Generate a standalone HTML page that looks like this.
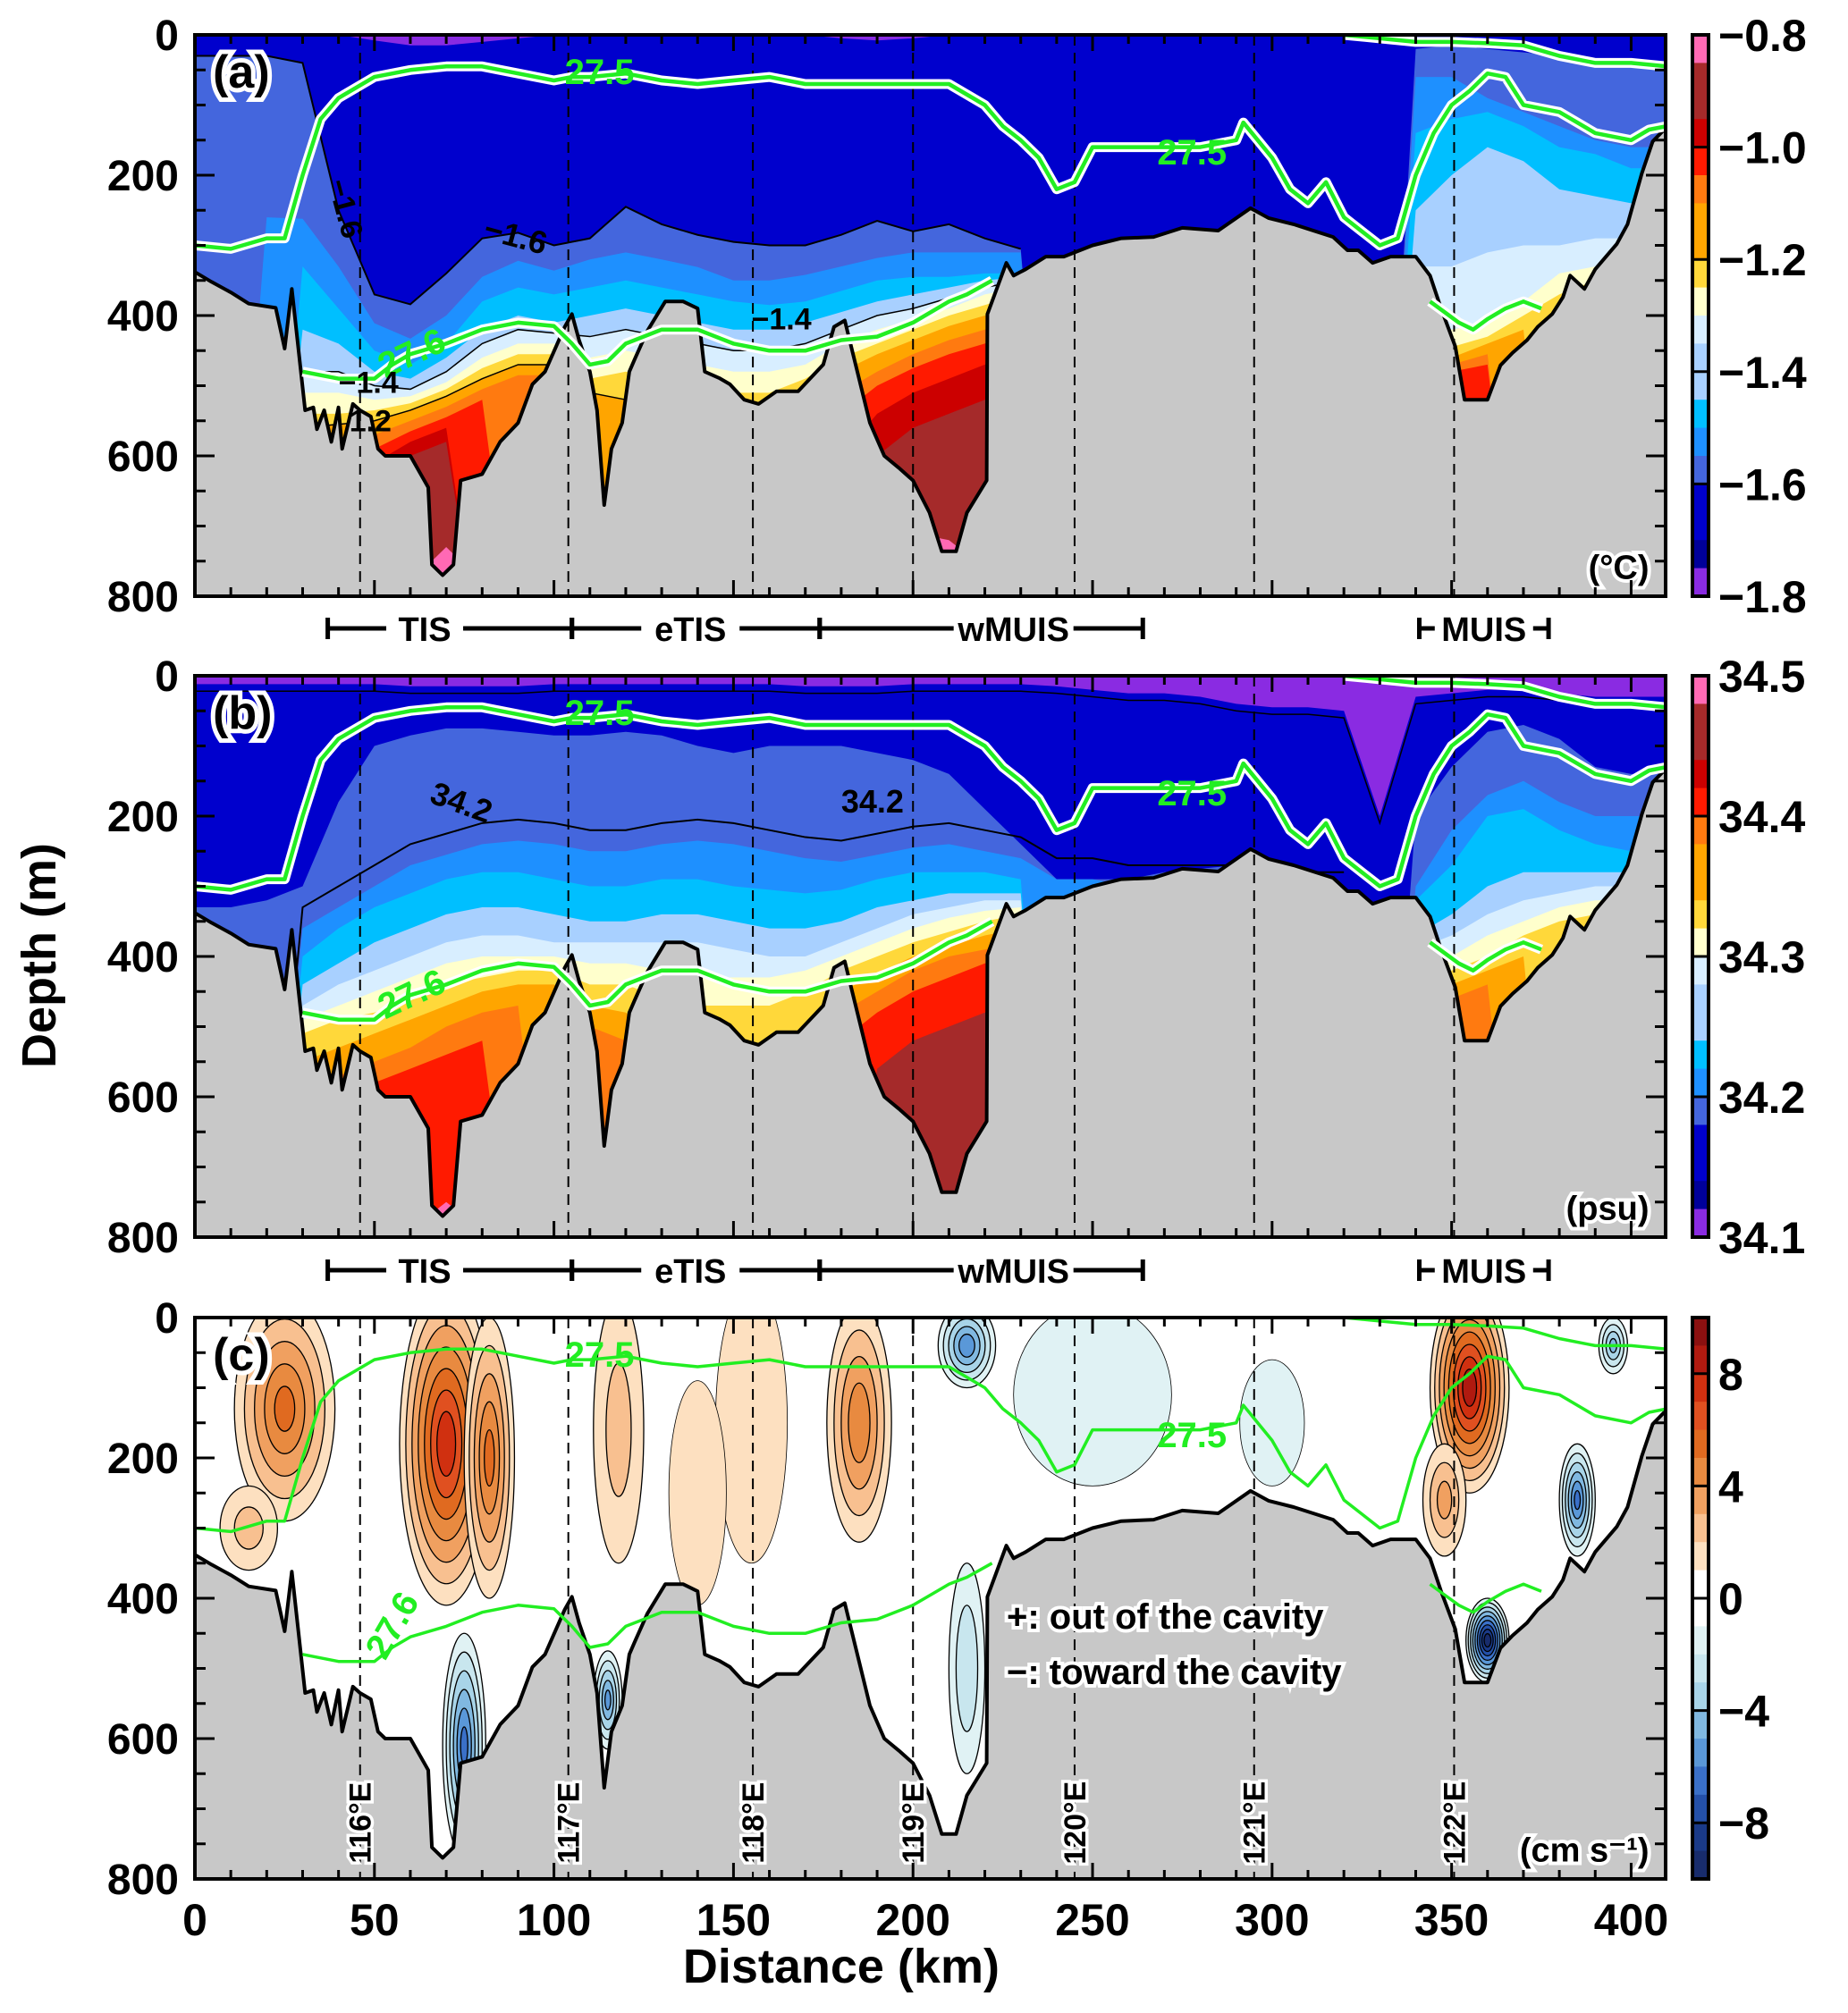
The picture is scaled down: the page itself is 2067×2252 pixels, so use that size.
<!DOCTYPE html>
<html><head><meta charset="utf-8">
<style>
html,body{margin:0;padding:0;background:#fff;}
svg{display:block;font-family:"Liberation Sans",Arial,sans-serif;font-weight:bold;}
</style></head>
<body>
<svg id="fig" xmlns="http://www.w3.org/2000/svg" width="2067" height="2252" viewBox="0 0 2067 2252">
<rect width="2067" height="2252" fill="#fff"/>
<g id="layer"></g>
</svg>
<script>
// ---------- data ----------
const stationStep = 10; // km between stations
const bathyKm = [0,4.6,10,15,22.5,25,27,30.7,33,34,36,38,40,41,44,46,49,51,53,56,60,65,66,69,72,74,80,85,90,94,97.5,103,105,107,110,112,114,116,119,121,122.5,126,131,136,140,142,146,149,153,157,162,168,175,178,181,188,192,196,200,204.6,208,212,215,220.5,220.7,226,228,231.4,237,242,250,258,267,275,285,294,299,306,317,321,324,328,333,340,344,347,351,353.6,360,363.6,367,371,374,378,381,383,387,390,396,399,403,406,409.6];
const bathyDepth = [338,352,367,383,389,447,362,535,531,562,535,580,531,590,526,535,544,590,600,600,600,645,755,770,755,635,626,580,553,498,480,416,398,435,480,535,670,590,553,480,462,422,380,380,390,480,489,498,520,526,508,508,470,416,407,553,600,617,635,681,736,736,681,635,398,325,343,334,316,316,300,290,288,275,279,247,261,270,288,307,307,325,316,316,343,389,444,520,520,471,453,435,416,398,374,343,362,334,298,270,197,152,133];

// temperature isolines (depth where each colour band begins), stations every 10 km
const tRoyal = [30,30,30,40,250,370,384,340,290,282,300,290,245,270,285,295,300,300,285,265,280,270,290,305,900,900,900,900,900,900,900,900,900,900,20,15,20,25,30,40,40,40];
const tDodger = [900,900,260,262,330,411,433,400,345,322,336,320,310,320,331,350,350,342,330,318,310,310,310,310,900,900,900,900,900,900,900,900,900,900,60,60,90,110,130,150,160,160];
const tDeepsky = [900,900,900,330,390,450,470,440,380,360,370,360,350,360,370,380,385,380,365,350,345,345,340,340,900,900,900,900,900,900,900,900,900,900,140,120,110,130,160,170,190,190];
const tLightsky = [900,900,900,420,440,480,490,460,420,400,410,400,390,400,410,420,420,410,395,380,370,360,350,345,900,900,900,900,900,900,900,900,900,900,250,200,160,180,220,230,240,240];
const tPalest = [900,900,900,480,480,500,505,480,440,420,425,430,420,430,440,450,450,440,420,400,390,375,360,350,900,900,900,900,900,900,900,900,900,900,330,330,310,300,300,290,290,290];
const tLightyellow = [900,900,900,510,510,520,515,495,460,440,440,460,450,460,470,480,480,470,440,420,405,390,370,360,900,900,900,900,900,900,900,900,900,900,400,420,410,380,340,330,320,320];
const tGold = [900,900,900,540,540,535,525,505,475,455,455,490,480,490,500,510,510,490,460,440,420,400,385,370,900,900,900,900,900,900,900,900,900,900,430,445,430,400,370,350,340,340];
const tOrange = [900,900,900,560,555,550,535,515,490,470,470,510,520,540,900,900,900,530,480,455,435,415,400,385,900,900,900,900,900,900,900,900,900,900,450,460,440,420,900,900,900,900];
const tDarkorange = [900,900,900,900,575,570,550,530,505,485,485,530,900,900,900,900,900,900,510,480,455,435,420,400,900,900,900,900,900,900,900,900,900,900,465,470,455,900,900,900,900,900];
const tRed = [900,900,900,900,600,590,565,545,520,900,900,550,900,900,900,900,900,900,540,500,475,455,440,420,900,900,900,900,900,900,900,900,900,900,480,480,470,900,900,900,900,900];
const tCrimson = [900,900,900,900,900,610,580,560,900,900,900,580,900,900,900,900,900,900,600,540,510,490,470,450,900,900,900,900,900,900,900,900,900,900,490,490,900,900,900,900,900,900];
const tDarkred = [900,900,900,900,900,630,600,580,900,900,900,900,900,900,900,900,900,900,900,600,560,540,520,500,900,900,900,900,900,900,900,900,900,900,900,500,900,900,900,900,900,900];
const tPink = [900,900,900,900,900,900,780,730,780,900,900,640,900,900,900,900,900,900,900,760,710,720,760,900,900,900,900,900,900,900,900,900,900,900,900,510,900,900,900,900,900,900];
const tPurple = [0,0,0,0,0,8,15,15,10,5,0,0,0,0,0,0,0,0,5,8,5,0,0,0,0,0,0,0,0,0,0,0,0,0,0,0,0,0,0,0,0,0];

// salinity isolines
const sPurple = [12,12,12,12,12,12,15,15,15,15,12,12,12,12,12,12,12,15,15,15,12,12,12,12,15,20,25,25,30,40,45,45,50,200,30,25,20,20,25,30,30,30];
const sRoyal = [330,330,320,300,180,100,85,75,75,80,85,85,80,85,100,110,100,100,100,110,120,140,190,240,290,290,290,280,275,270,290,310,310,900,200,130,80,70,90,130,140,140];
const sDodger = [900,900,900,360,330,300,270,255,240,235,240,250,250,240,235,240,250,260,265,255,245,240,250,260,290,290,300,300,300,300,300,310,310,900,300,220,170,150,180,200,200,200];
const sDeepsky = [900,900,900,400,360,330,310,290,280,280,290,300,300,290,290,300,305,310,305,290,280,280,280,290,900,900,900,900,900,900,900,900,900,900,320,270,200,190,220,240,250,250];
const sLightsky = [900,900,900,440,410,380,360,340,330,330,340,350,350,340,340,350,360,360,350,330,320,310,310,310,900,900,900,900,900,900,900,900,900,900,370,340,300,280,280,280,280,280];
const sPalest = [900,900,900,470,440,420,400,380,370,370,380,380,380,380,380,390,400,400,380,360,340,330,320,320,900,900,900,900,900,900,900,900,900,900,390,370,340,320,310,300,300,300];
const sLightyellow = [900,900,900,490,470,450,430,410,400,400,400,410,410,420,430,430,430,420,400,380,360,345,335,330,900,900,900,900,900,900,900,900,900,900,410,400,370,350,330,320,320,320];
const sGold = [900,900,900,510,490,480,460,440,430,420,420,440,440,460,470,470,470,450,420,400,380,365,350,340,900,900,900,900,900,900,900,900,900,900,430,420,400,370,350,340,340,340];
const sOrange = [900,900,900,550,530,510,490,470,450,440,440,470,480,520,900,900,900,500,450,425,400,385,370,360,900,900,900,900,900,900,900,900,900,900,450,440,420,400,900,900,900,900];
const sDarkorange = [900,900,900,900,570,550,530,500,480,470,900,500,520,900,900,900,900,900,480,450,420,400,390,380,900,900,900,900,900,900,900,900,900,900,470,460,440,900,900,900,900,900];
const sRed = [900,900,900,900,900,580,560,540,520,900,900,560,900,900,900,900,900,900,520,480,450,430,410,400,900,900,900,900,900,900,900,900,900,900,490,480,900,900,900,900,900,900];
const sCrimson = [900,900,900,900,900,900,900,900,900,900,900,900,900,900,900,900,900,900,900,560,520,500,480,470,900,900,900,900,900,900,900,900,900,900,900,900,900,900,900,900,900,900];
const sPink = [900,900,900,900,900,900,790,750,790,900,900,650,900,900,900,900,900,900,900,780,720,760,900,900,900,900,900,900,900,900,900,900,900,900,900,900,900,900,900,900,900,900];

// density contours
const g275Km = [0,10,20,25,30,35,40,50,60,70,80,90,100,105,110,120,130,140,150,160,170,180,190,200,210,220,225,230,235,240,245,250,260,270,280,290,292,300,305,310,315,320,325,330,335,340,345,350,355,360,365,370,380,390,400,405,410];
const g275Depth = [300,305,290,290,200,120,90,60,50,45,45,55,65,60,60,55,65,70,65,60,70,70,70,70,70,100,130,150,175,220,210,160,160,160,160,150,125,175,220,240,210,260,280,300,290,200,140,100,80,55,60,100,110,140,150,135,130];
const g275bKm = [320,330,340,350,360,370,380,390,400,410];
const g275bDepth = [0,5,10,10,12,15,30,40,40,45];
const g276Km = [30,40,50,55,60,70,80,90,100,105,110,115,120,130,140,150,160,170,180,190,200,210,215,222];
const g276Depth = [480,490,490,470,455,440,420,410,415,440,470,465,440,420,420,440,450,450,435,430,410,380,370,350];
const g276bKm = [344,348,352,356,360,365,370,375];
const g276bDepth = [380,395,410,420,405,390,380,390];

// velocity features (km, depth centre, half-width km, half-height m, peak cm/s)
const velKm     = [250,155,25,15,70,82,118,185,355,348,75,360,115,215,385,395,215,140,300];
const velDepth  = [110,150,130,300,180,200,160,150,100,260,610,460,545,40,260,40,500,250,150];
const velHalfW  = [22,10,14,8,13,7,7,9,11,6,6,6,4,8,5,4,5,8,9];
const velHalfH  = [130,200,160,60,230,200,190,170,150,80,160,60,70,60,80,40,150,160,90];
const velValue  = [-1.2,1.5,5,2,7.5,5,2,4.5,8.5,3,-6,-9.5,-5,-5.5,-6,-4,-2.5,1.2,-1.1];

// lon lines
const lonKm = [46,104,155.4,200,245,295,350.7];
const lonLabel = ["116°E","117°E","118°E","119°E","120°E","121°E","122°E"];

// colorbars
const cbTempLabels = ["−0.8","−1.0","−1.2","−1.4","−1.6","−1.8"];
const cbSalLabels = ["34.5","34.4","34.3","34.2","34.1"];
const cbVelLabels = ["8","4","0","−4","−8"];
const cbVelValues = [8,4,0,-4,-8];
const xTickValues = [0,50,100,150,200,250,300,350,400];
const yTickValues = [0,200,400,600,800];

// ---------- layout ----------
const X0 = 218, X1 = 1863, XMAX = 409.6, KX = (X1 - X0) / XMAX;
const TOPS = [39, 756, 1474], PH = 628;
const CBX = 1893, CBW = 18;
const C = {purple:'#8a2be2',navy:'#00009a',mblue:'#0000cd',royal:'#4466dd',dodger:'#1e90ff',deepsky:'#00bfff',lightsky:'#a8d0ff',palest:'#d8eeff',lyellow:'#ffffcc',gold:'#ffd83a',orange:'#ffa500',dorange:'#ff7a10',red:'#ff1a00',crimson:'#cc0000',dred:'#a52a2a',pink:'#ff69b4'};
const cbColors = [C.pink,C.dred,C.dred,C.crimson,C.red,C.dorange,C.orange,C.orange,C.gold,C.lyellow,C.palest,C.lightsky,C.lightsky,C.deepsky,C.dodger,C.royal,C.mblue,C.mblue,C.navy,C.purple];
const velColors = ['#8b1010','#b01a10','#d03010','#e05020','#e06a20','#e88a40','#f0a060','#f8c090','#fde0c0','#ffffff','#ffffff','#e0f2f4','#c8e6ee','#a8d4e8','#80b8e0','#5a98d8','#3a70c8','#2450a8','#1a3a88','#182c6c'];

const NS = 'http://www.w3.org/2000/svg';
const root = document.getElementById('layer');
function el(tag, attrs, parent){ const e=document.createElementNS(NS,tag); for(const k in attrs) e.setAttribute(k,attrs[k]); (parent||root).appendChild(e); return e; }
const xs = km => X0 + km*KX;
const ys = (p,d) => TOPS[p] + d*PH/800;

const defs = el('defs',{});
for(let p=0;p<3;p++){ const cp=el('clipPath',{id:'clip'+p},defs); el('rect',{x:X0,y:TOPS[p],width:X1-X0,height:PH},cp); }

function bandPath(p, arr){
  let pts = arr.map((d,i)=> xs(i*stationStep).toFixed(1)+','+ys(p,d).toFixed(1));
  pts.push(xs(420).toFixed(1)+','+(TOPS[p]+PH+10), xs(-10).toFixed(1)+','+(TOPS[p]+PH+10));
  return pts.join(' ');
}
function topBandPath(p, arr){
  let pts = arr.map((d,i)=> xs(i*stationStep).toFixed(1)+','+ys(p,d).toFixed(1));
  pts.push(xs(420).toFixed(1)+','+(TOPS[p]-5), xs(-10).toFixed(1)+','+(TOPS[p]-5));
  return pts.join(' ');
}
function linePts(p, kms, ds){ return kms.map((k,i)=> xs(k).toFixed(1)+','+ys(p,ds[i]).toFixed(1)).join(' '); }

function drawBathy(g,p){
  const pts = bathyKm.map((k,i)=> xs(k).toFixed(1)+','+ys(p,bathyDepth[i]).toFixed(1));
  const poly = el('polygon',{points: pts.concat([xs(XMAX+2)+','+(TOPS[p]+PH+5), xs(-2)+','+(TOPS[p]+PH+5)]).join(' '), fill:'#c8c8c8'},g);
  
  
  const ln = el('polyline',{points: pts.join(' '), fill:'none', stroke:'#000','stroke-width':4,'stroke-linejoin':'round'},g);
  
  
}
function drawGreen(g,p,halo){
  const sets = [[g275Km,g275Depth],[g275bKm,g275bDepth],[g276Km,g276Depth],[g276bKm,g276bDepth]];
  sets.forEach((s,i)=>{
    if(halo){ el('polyline',{points:linePts(p,s[0],s[1]),fill:'none',stroke:'#fff','stroke-width':11,'stroke-linejoin':'round'},g); }
    const l = el('polyline',{points:linePts(p,s[0],s[1]),fill:'none',stroke:'#22ee22','stroke-width':halo?4.5:3.5,'stroke-linejoin':'round'},g);
    
    
  });
}
function txt(g,x,y,s,size,opts){
  opts=opts||{};
  const t = el('text',Object.assign({x:x,y:y,'font-size':size,'text-anchor':opts.anchor||'start',fill:opts.fill||'#000'},opts.extra||{}),g);
  if(opts.halo){ t.setAttribute('stroke','#fff'); t.setAttribute('stroke-width',opts.halo); t.setAttribute('paint-order','stroke'); }
  t.textContent = s;
  return t;
}
function lonLines(g,p){
  lonKm.forEach(k=>{
    const l = el('line',{x1:xs(k),x2:xs(k),y1:TOPS[p],y2:TOPS[p]+PH,stroke:'#000','stroke-width':2,'stroke-dasharray':'12 8'},g);
    
    
  });
}
function frame(p){
  const g = el('g',{});
  
  
  el('rect',{x:X0,y:TOPS[p],width:X1-X0,height:PH,fill:'none',stroke:'#000','stroke-width':4},g);
  for(let k=0;k<=XMAX;k+=10){
    const L = (k%50===0)?18:10;
    el('line',{x1:xs(k),x2:xs(k),y1:TOPS[p]+PH,y2:TOPS[p]+PH-L,stroke:'#000','stroke-width':3},g);
    el('line',{x1:xs(k),x2:xs(k),y1:TOPS[p],y2:TOPS[p]+L,stroke:'#000','stroke-width':3},g);
  }
  for(let d=0;d<=800;d+=50){
    const L = (d%200===0)?22:12;
    el('line',{x1:X0,x2:X0+L,y1:ys(p,d),y2:ys(p,d),stroke:'#000','stroke-width':3},g);
    el('line',{x1:X1,x2:X1-L,y1:ys(p,d),y2:ys(p,d),stroke:'#000','stroke-width':3},g);
  }
  yTickValues.forEach(v=>{
    const t = txt(g,200,ys(p,v)+17,String(v),48,{anchor:'end'});
    
    
  });
}
function colorbar(p, colors, labels, fracs){
  const g = el('g',{});
  
  
  const n = colors.length, h = PH/n;
  colors.forEach((c,i)=>{
    const r = el('rect',{x:CBX,y:TOPS[p]+i*h,width:CBW,height:h+0.5,fill:c},g);
    
    
  });
  el('rect',{x:CBX,y:TOPS[p],width:CBW,height:PH,fill:'none',stroke:'#000','stroke-width':4},g);
  labels.forEach((s,i)=>{
    const y = TOPS[p] + fracs[i]*PH;
    el('line',{x1:CBX,x2:CBX+CBW,y1:y,y2:y,stroke:'#000','stroke-width':3},g);
    const t = txt(g,1922,y+18,s,50,{});
    
    
  });
}

// ---------- panel (a) temperature ----------
(function(){
  const p=0; const g=el('g',{'clip-path':'url(#clip0)'});
  
  
  el('rect',{x:X0,y:TOPS[p],width:X1-X0,height:PH,fill:C.mblue},g);
  el('polygon',{points:topBandPath(p,tPurple),fill:C.purple},g);
  const bands=[[tRoyal,C.royal],[tDodger,C.dodger],[tDeepsky,C.deepsky],[tLightsky,C.lightsky],[tPalest,C.palest],[tLightyellow,C.lyellow],[tGold,C.gold],[tOrange,C.orange],[tDarkorange,C.dorange],[tRed,C.red],[tCrimson,C.crimson],[tDarkred,C.dred],[tPink,C.pink]];
  bands.forEach(b=>{ const e=el('polygon',{points:bandPath(p,b[0]),fill:b[1]},g);   });
  el('polyline',{points:tRoyal.slice(0,24).map((d,i)=>xs(i*10)+','+ys(p,d)).join(' '),fill:'none',stroke:'#000','stroke-width':2},g);
  el('polyline',{points:tPalest.slice(0,24).map((d,i)=>xs(i*10)+','+ys(p,d)).join(' '),fill:'none',stroke:'#000','stroke-width':1.5},g);
  el('polyline',{points:tOrange.slice(0,14).map((d,i)=>xs(i*10)+','+ys(p,d)).join(' '),fill:'none',stroke:'#000','stroke-width':1.5},g);
  drawBathy(g,p); lonLines(g,p); drawGreen(g,p,true);
  txt(g,xs(103),ys(p,70),'27.5',40,{fill:'#22ee22'});
  txt(g,xs(268),ys(p,185),'27.5',40,{fill:'#22ee22'});
  txt(g,xs(53),ys(p,490),'27.6',40,{fill:'#22ee22',extra:{transform:'rotate(-25 '+xs(53)+' '+ys(p,490)+')'}});
  txt(g,xs(80),ys(p,290),'−1.6',36,{extra:{transform:'rotate(15 '+xs(80)+' '+ys(p,290)+')'}});
  txt(g,xs(37),ys(p,210),'−1.6',34,{extra:{transform:'rotate(75 '+xs(37)+' '+ys(p,210)+')'}});
  txt(g,xs(155),ys(p,420),'−1.4',34,{});
  txt(g,xs(40),ys(p,510),'−1.4',34,{});
  txt(g,xs(43),ys(p,565),'1.2',34,{});
  txt(g,xs(5),ys(p,75),'(a)',52,{halo:10});
  txt(g,xs(405),ys(p,775),'(°C)',38,{anchor:'end',halo:8});
  frame(p);
  colorbar(p,cbColors,cbTempLabels,[0,0.2,0.4,0.6,0.8,1]);
})();

// ---------- panel (b) salinity ----------
(function(){
  const p=1; const g=el('g',{'clip-path':'url(#clip1)'});
  
  
  el('rect',{x:X0,y:TOPS[p],width:X1-X0,height:PH,fill:C.mblue},g);
  const bands=[[sRoyal,C.royal],[sDodger,C.dodger],[sDeepsky,C.deepsky],[sLightsky,C.lightsky],[sPalest,C.palest],[sLightyellow,C.lyellow],[sGold,C.gold],[sOrange,C.orange],[sDarkorange,C.dorange],[sRed,C.red],[sCrimson,C.dred],[sPink,C.pink]];
  bands.forEach(b=>{ const e=el('polygon',{points:bandPath(p,b[0]),fill:b[1]},g);   });
  el('polygon',{points:topBandPath(p,sPurple),fill:C.purple},g);
  el('polyline',{points:sDodger.slice(0,33).map((d,i)=>xs(i*10)+','+ys(p,d-30)).join(' '),fill:'none',stroke:'#000','stroke-width':2},g);
  el('polyline',{points:sPurple.map((d,i)=>xs(i*10)+','+ys(p,d+10)).join(' '),fill:'none',stroke:'#000','stroke-width':1.5},g);
  drawBathy(g,p); lonLines(g,p); drawGreen(g,p,true);
  txt(g,xs(103),ys(p,70),'27.5',40,{fill:'#22ee22'});
  txt(g,xs(268),ys(p,185),'27.5',40,{fill:'#22ee22'});
  txt(g,xs(53),ys(p,490),'27.6',40,{fill:'#22ee22',extra:{transform:'rotate(-25 '+xs(53)+' '+ys(p,490)+')'}});
  txt(g,xs(65),ys(p,180),'34.2',36,{extra:{transform:'rotate(20 '+xs(65)+' '+ys(p,180)+')'}});
  txt(g,xs(180),ys(p,195),'34.2',36,{});
  txt(g,xs(5),ys(p,75),'(b)',52,{halo:10});
  txt(g,xs(405),ys(p,775),'(psu)',38,{anchor:'end',halo:8});
  frame(p);
  colorbar(p,cbColors,cbSalLabels,[0,0.25,0.5,0.75,1]);
})();

// ---------- panel (c) velocity ----------
(function(){
  const p=2; const g=el('g',{'clip-path':'url(#clip2)'});
  
  
  el('rect',{x:X0,y:TOPS[p],width:X1-X0,height:PH,fill:'#fff'},g);
  velKm.forEach((k,i)=>{
    const v = velValue[i], a = Math.abs(v), sgn = v<0?-1:1;
    const n = Math.max(1, Math.floor(a));
    for(let L=1; L<=n; L++){
      const s = 1 - (L-1)/a;
      const idx = sgn>0 ? 9-L : 10+L;
      const e = el('ellipse',{cx:xs(k),cy:ys(p,velDepth[i]),rx:velHalfW[i]*KX*s,ry:velHalfH[i]*PH/800*s,fill:velColors[Math.max(0,Math.min(19,idx))],stroke:'#000','stroke-width':a<2?0.8:1.3},g);
      
      
    }
  });
  drawBathy(g,p); lonLines(g,p); drawGreen(g,p,false);
  txt(g,xs(103),ys(p,70),'27.5',40,{fill:'#22ee22'});
  txt(g,xs(268),ys(p,185),'27.5',40,{fill:'#22ee22'});
  txt(g,xs(53),ys(p,490),'27.6',40,{fill:'#22ee22',extra:{transform:'rotate(-60 '+xs(53)+' '+ys(p,490)+')'}});
  txt(g,xs(5),ys(p,75),'(c)',52,{halo:10});
  const t1 = txt(g,1126,1822,'+: out of the cavity',40,{halo:8});
   
  const t2 = txt(g,1126,1884,'−: toward the cavity',40,{halo:8});
   
  lonKm.forEach((k,i)=>{
    const x = xs(k)+12, y = ys(p,720);
    const t = txt(g,x,y,lonLabel[i],34,{anchor:'middle',halo:7,extra:{transform:'rotate(-90 '+x+' '+y+')'}});
     
  });
  txt(g,xs(405),ys(p,775),'(cm s⁻¹)',38,{anchor:'end',halo:8});
  frame(p);
  colorbar(p,velColors,cbVelLabels,cbVelValues.map(v=>(10-v)/20));
})();

// ---------- region bars ----------
const regionName = ['TIS','eTIS','wMUIS','MUIS'];
const regionStart = [37,105,174,341];
const regionEnd = [105,174,264,377];
const regionLabelKm = [64,138,228,359];
[703,1421].forEach(y=>{
  const g = el('g',{});
  
  
  regionName.forEach((n,i)=>{
    el('line',{x1:xs(regionStart[i]),x2:xs(regionEnd[i]),y1:y,y2:y,stroke:'#000','stroke-width':5},g);
    el('line',{x1:xs(regionStart[i]),x2:xs(regionStart[i]),y1:y-12,y2:y+12,stroke:'#000','stroke-width':5},g);
    el('line',{x1:xs(regionEnd[i]),x2:xs(regionEnd[i]),y1:y-12,y2:y+12,stroke:'#000','stroke-width':5},g);
    const w = n.length*24+14;
    el('rect',{x:xs(regionLabelKm[i])-w/2,y:y-20,width:w,height:40,fill:'#fff'},g);
    const t = txt(g,xs(regionLabelKm[i]),y+14,n,38,{anchor:'middle'});
     
  });
});

// ---------- axis labels ----------
xTickValues.forEach(v=>{
  const t = txt(root,xs(v),2165,String(v),50,{anchor:'middle'});
   
});
const xt = txt(root,xs(180),2218,'Distance (km)',54,{anchor:'middle'});
 
const yt = txt(root,62,1069,'Depth (m)',54,{anchor:'middle',extra:{transform:'rotate(-90 62 1069)'}});
 
</script>
</body></html>
